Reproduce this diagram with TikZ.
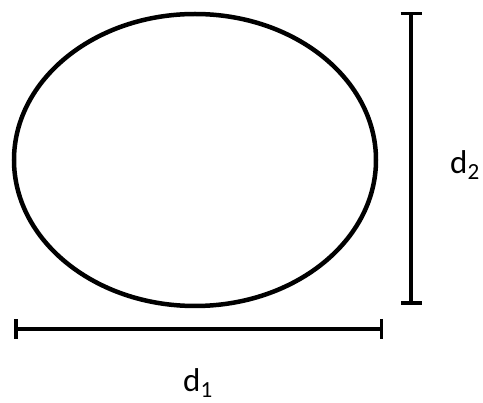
\documentclass[tikz,border=0pt]{standalone}
\usepackage{fontspec}
\setmainfont{Carlito}
\usetikzlibrary{arrows.meta,shapes.geometric}
\begin{document}
\begin{tikzpicture}[x=1pt,y=-1pt,every node/.style={font=\fontsize{33}{40}\selectfont}]
  \useasboundingbox (0,0) rectangle (483,403);
  \node[draw,line width=4.5pt,ellipse,inner sep=0pt,minimum width=362pt,minimum height=292pt] (oval) at (195,160) {};
  \coordinate (d1l) at (14,329);
  \coordinate (d1r) at (383,329);
  \coordinate (d2t) at (411,12);
  \coordinate (d2b) at (411,305);
  \draw[line width=3.5pt,{Bar[width=20pt]}-{Bar[width=20pt]}] (d1l)--(d1r);
  \draw[line width=3.5pt,{Bar[width=21pt]}-{Bar[width=21pt]}] (d2t)--(d2b);
  \node (lbl1) at (198,383) {d\textsubscript{1}};
  \node (lbl2) at (465,165) {d\textsubscript{2}};
\end{tikzpicture}
\end{document}
